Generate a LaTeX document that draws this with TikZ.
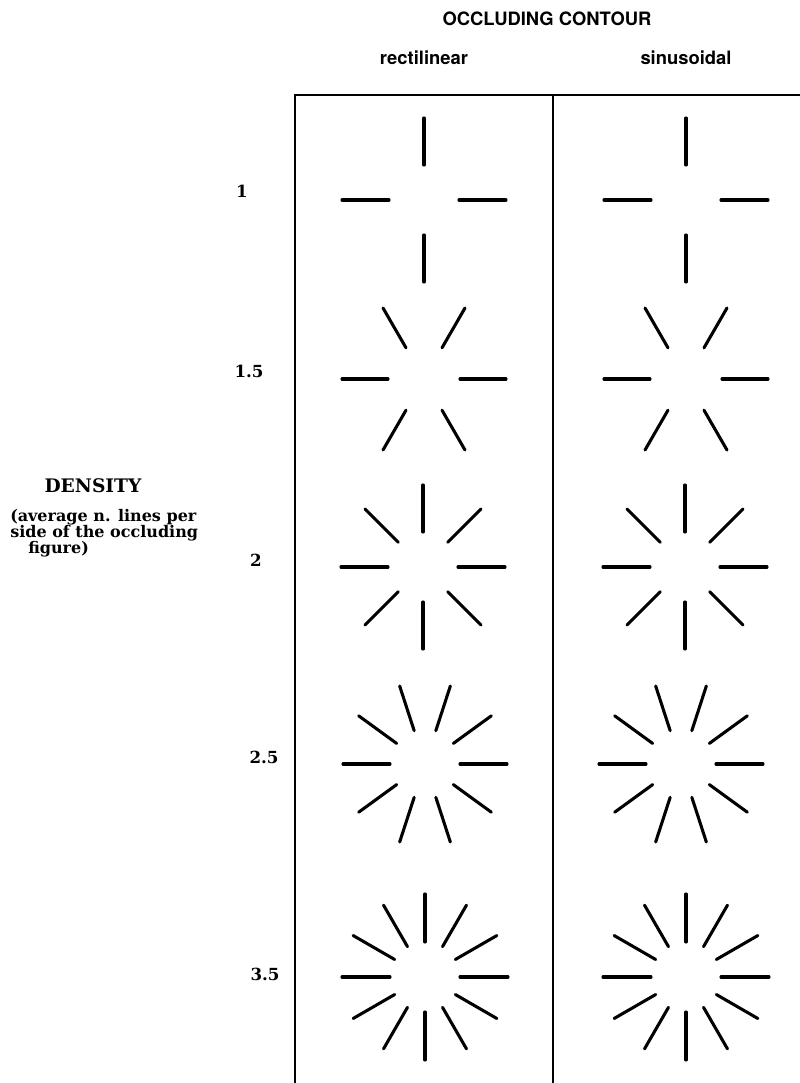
\documentclass[tikz,border=0pt]{standalone}
\usepackage{fontspec}
\setmainfont{DejaVu Serif}
\newfontfamily\headfont{TeX Gyre Heros}
\newfontfamily\labfont{DejaVu Serif}
\begin{document}
\begin{tikzpicture}[x=0.75pt,y=-0.75pt,
  frame/.style={line width=1.1pt,black},
  ray/.style={line width=2.3pt,line cap=round,black},
  head/.style={font=\headfont\bfseries\fontsize{13.8}{16}\selectfont,anchor=base,inner sep=0pt},
  lab/.style={font=\labfont\bfseries\fontsize{12.5}{15}\selectfont,anchor=base,inner sep=0pt},
  dens/.style={font=\labfont\bfseries\fontsize{14}{16}\selectfont,anchor=base,inner sep=0pt},
  sub/.style={font=\labfont\bfseries\fontsize{12}{12}\selectfont,anchor=base west,inner sep=0pt}]
\useasboundingbox (0,0) rectangle (800,1083);
\fill[white] (0,0) rectangle (800,1083);
% frame
\draw[frame] (295,1083) -- (295,95) -- (800,95);
\draw[frame] (553,95) -- (553,1083);
% headings
\node[head] (title) at (547,25) {OCCLUDING CONTOUR};
\node[head] (rect) at (424,64) {rectilinear};
\node[head] (sinu) at (686,64) {sinusoidal};
% density label
\node[dens] (dens) at (93,492) {DENSITY};
\node[sub] (s1) at (10,521) {(average n. lines per};
\node[sub] (s2) at (10,537) {side of the occluding};
\node[sub] (s3) at (28,553) {figure)};
% row labels
\node[lab] (r1) at (242,197) {1};
\node[lab] (r2) at (249,377) {1.5};
\node[lab] (r3) at (256,566) {2};
\node[lab] (r4) at (264,763) {2.5};
\node[lab] (r5) at (265,980) {3.5};
% star centres
\coordinate (a1) at (424,200); \coordinate (b1) at (686,200);
\coordinate (a2) at (424,379); \coordinate (b2) at (686,379);
\coordinate (a3) at (423,567); \coordinate (b3) at (685,567);
\coordinate (a4) at (425,764); \coordinate (b4) at (681,764);
\coordinate (a5) at (425,977); \coordinate (b5) at (686,977);
\foreach \c in {a1,b1} \foreach \t in {0,90,...,270}
  \draw[ray,shift={(\c)}] (\t:35) -- (\t:82);
\foreach \c in {a2,b2} \foreach \t in {0,60,...,300}
  \draw[ray,shift={(\c)}] (\t:36) -- (\t:82);
\foreach \c in {a3,b3} \foreach \t in {0,45,...,315}
  \draw[ray,shift={(\c)}] (\t:35) -- (\t:82);
\foreach \c in {a4,b4} \foreach \t in {0,36,...,324}
  \draw[ray,shift={(\c)}] (\t:35) -- (\t:82);
\foreach \c in {a5,b5} \foreach \t in {0,30,...,330}
  \draw[ray,shift={(\c)}] (\t:35) -- (\t:83);
\end{tikzpicture}
\end{document}
